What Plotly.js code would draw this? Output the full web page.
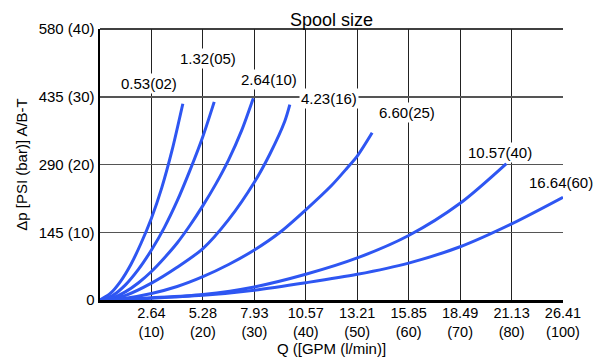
<!DOCTYPE html>
<html>
<head>
<meta charset="utf-8">
<script src="https://cdn.plot.ly/plotly-3.0.1.min.js"></script>
<style>
  html, body { margin: 0; padding: 0; background: #fff; }
  #chart { width: 603px; height: 360px; }
</style>
</head>
<body>
<div id="chart"></div>
<script>
// Flow positions are in the chart's axis units (l/min scale; the last gridline is labelled 100)
const curve02_x = [0, 2, 4, 6, 8, 10, 12, 14, 16.1];
const curve02_y = [0, 14, 40, 76, 122, 175, 240, 320, 420];

const curve05_x = [0, 2.5, 5, 7.5, 10, 12.5, 15, 17.5, 20, 22.2];
const curve05_y = [0, 10, 33, 66, 107, 155, 212, 278, 350, 424];

const curve10_x = [0, 2.5, 5, 7.5, 10, 12.5, 15, 17.5, 20, 22.5, 25, 27.5, 29.8];
const curve10_y = [0, 5, 18, 37, 61, 90, 122, 160, 202, 248, 300, 362, 432];

const curve16_x = [0, 5, 10, 15, 20, 25, 30, 33, 35.9, 36.9];
const curve16_y = [0, 10, 36, 70, 110, 172, 252, 312, 382, 418];

const curve25_x = [0, 5, 10, 15, 20, 25, 30, 35, 40, 45, 48, 50, 52.9];
const curve25_y = [0, 4, 14, 29, 50, 76, 107, 145, 193, 245, 282, 308, 358];

const curve40_x = [0, 10, 20, 30, 40, 50, 60, 70, 79];
const curve40_y = [0, 5, 12, 28, 55, 90, 138, 207, 292];

const curve60_x = [0, 10, 20, 30, 40, 50, 60, 70, 80, 90];
const curve60_y = [0, 4, 10, 21, 37, 55, 79, 114, 163, 220];

const spoolLabels = ["0.53(02)", "1.32(05)", "2.64(10)", "4.23(16)", "6.60(25)", "10.57(40)", "16.64(60)"];
const labelX = [9.5, 21, 32.8, 44.5, 59.6, 77.7, 89.7];
const labelY = [463, 516, 471, 431, 401, 316, 251];

const xTickVals = [10, 20, 30, 40, 50, 60, 70, 80, 90];
const xTickText = ["2.64<br>(10)", "5.28<br>(20)", "7.93<br>(30)", "10.57<br>(40)", "13.21<br>(50)",
                   "15.85<br>(60)", "18.49<br>(70)", "21.13<br>(80)", "26.41<br>(100)"];
const yTickVals = [0, 145, 290, 435, 580];
const yTickText = ["0", "145 (10)", "290 (20)", "435 (30)", "580 (40)"];

const curvesX = [curve02_x, curve05_x, curve10_x, curve16_x, curve25_x, curve40_x, curve60_x];
const curvesY = [curve02_y, curve05_y, curve10_y, curve16_y, curve25_y, curve40_y, curve60_y];

const FONT = "Liberation Sans, Arial, sans-serif";
const BLUE = "#2e56f2";

const traces = curvesX.map((xs, i) => ({
  type: "scatter",
  mode: "lines",
  x: xs,
  y: curvesY[i],
  name: spoolLabels[i],
  line: { color: BLUE, width: 3, shape: "spline", smoothing: 0.8 },
  hoverinfo: "x+y"
}));

const annotations = spoolLabels.map((t, i) => ({
  x: labelX[i], y: labelY[i], xref: "x", yref: "y",
  text: t, showarrow: false,
  font: { family: FONT, size: 15, color: "#000" },
  bgcolor: "#fff", borderpad: 1
}));

const layout = {
  width: 603, height: 360,
  margin: { l: 100, r: 40, t: 29, b: 60 },
  paper_bgcolor: "#fff", plot_bgcolor: "#fff",
  showlegend: false,
  font: { family: FONT, size: 15, color: "#000" },
  title: { text: "Spool size", font: { family: FONT, size: 18, color: "#000" },
           x: 0.5, xref: "paper", y: 1, yref: "paper", yanchor: "bottom", pad: { b: 3 } },
  xaxis: {
    range: [0, 90], tickmode: "array", tickvals: xTickVals, ticktext: xTickText,
    showgrid: true, gridcolor: "#222", gridwidth: 1,
    showline: true, linecolor: "#000", linewidth: 3,
    zeroline: false, ticks: "", fixedrange: true, ticklabelstandoff: -2,
    tickfont: { family: FONT, size: 14.5, color: "#000" },
    title: { text: "Q ([GPM (l/min)]", font: { family: FONT, size: 15, color: "#000" }, standoff: 4 }
  },
  yaxis: {
    range: [0, 580], tickmode: "array", tickvals: yTickVals, ticktext: yTickText,
    showgrid: true, gridcolor: "#555", gridwidth: 1.5,
    showline: true, linecolor: "#000", linewidth: 2.5,
    zeroline: false, ticks: "", fixedrange: true,
    tickfont: { family: FONT, size: 15, color: "#000" },
    title: { text: "Δp [PSI (bar)] A/B-T", font: { family: FONT, size: 15, color: "#000" }, standoff: 8 }
  },
  shapes: [
    { type: "line", xref: "paper", yref: "paper", x0: 0, x1: 1, y0: 1, y1: 1,
      line: { color: "#000", width: 1.5 }, layer: "below" }
  ],
  annotations: annotations
};

Plotly.newPlot("chart", traces, layout, { staticPlot: true, displayModeBar: false });
</script>
</body>
</html>
